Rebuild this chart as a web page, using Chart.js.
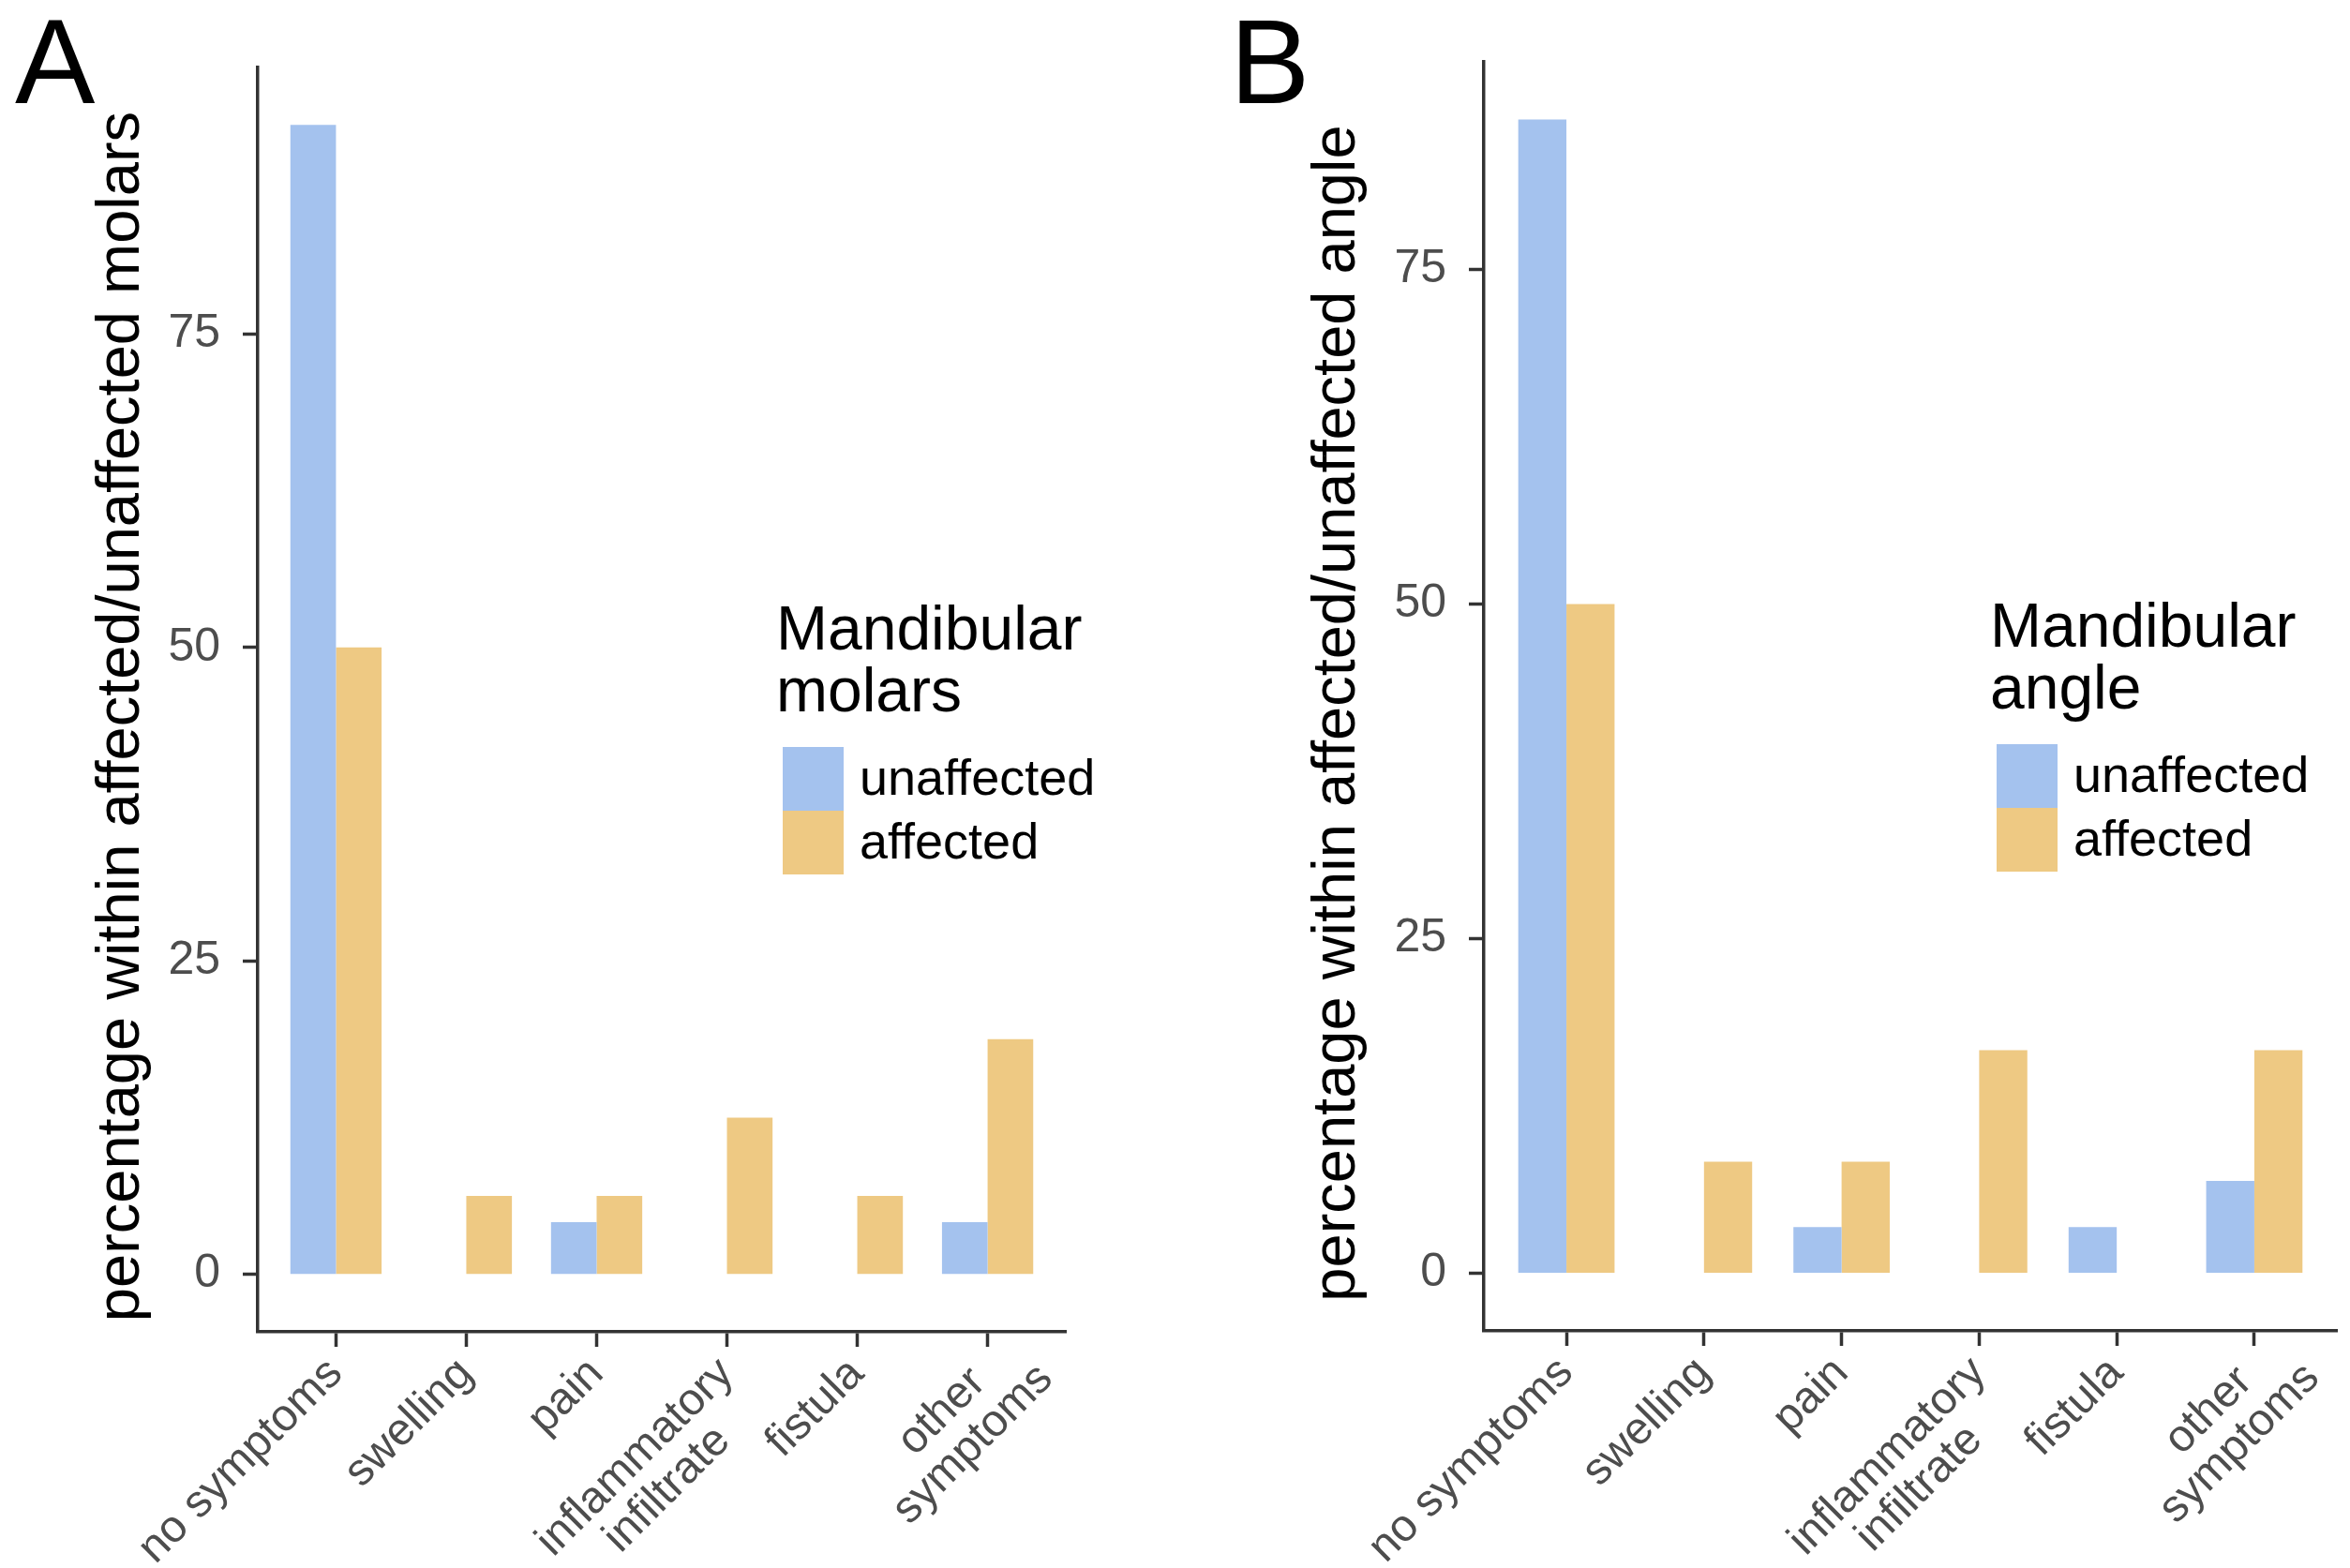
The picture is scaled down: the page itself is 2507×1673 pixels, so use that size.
<!DOCTYPE html>
<html>
<head>
<meta charset="utf-8">
<script src="https://cdn.jsdelivr.net/npm/chart.js@4.4.0/dist/chart.umd.min.js"></script>
<style>
  body { margin: 0; background: #fff; width: 2507px; height: 1673px; position: relative; overflow: hidden; }
  canvas { position: absolute; top: 0; }
</style>
</head>
<body>
<canvas id="painel_a" width="1250" height="1673" style="left:0px"></canvas>
<canvas id="painel_b" width="1257" height="1673" style="left:1250px"></canvas>
<script>
// DADOS DOS GRÁFICOS

// categorias do eixo x (\n = quebra de linha no rótulo)
var categorias = ['no symptoms', 'swelling', 'pain', 'inflammatory\ninfiltrate', 'fistula', 'other\nsymptoms'];
var legendaSeries = ['unaffected', 'affected'];
var ticksY = [0, 25, 50, 75];

// A - molares mandibulares (%)
var molaresNaoAfetados = [91.67, 0, 4.17, 0, 0, 4.17];
var molaresAfetados = [50, 6.25, 6.25, 12.5, 6.25, 18.75];

// B - ângulo mandibular (%)
var anguloNaoAfetado = [86.21, 0, 3.45, 0, 3.45, 6.9];
var anguloAfetado = [50, 8.33, 8.33, 16.67, 0, 16.67];

var corAzul = '#A4C2EE';
var corLaranja = '#EEC983';
var corEixo = '#333333';
var corTexto = '#4D4D4D';
var fonte = '"Liberation Sans", Arial, sans-serif';
var tamanhoX = 48;

Chart.defaults.font.family = fonte;

// centraliza as linhas de um rótulo de várias linhas (como o ggplot faz),
// completando as linhas menores com espaços no fim.
// No ggplot o bloco cuja linha mais longa não é a primeira fica um pouco
// mais à frente; os outros rótulos levam 3 espaços extras para compensar
// o labelOffset do eixo.
var medidor = document.createElement('canvas').getContext('2d');
function centralizarLinhas(linhas, tamanho) {
  medidor.font = tamanho + 'px ' + fonte;
  var larguras = linhas.map(l => medidor.measureText(l).width);
  var maior = Math.max.apply(null, larguras);
  var espaco = medidor.measureText(' ').width;
  var recuo = larguras.indexOf(maior) > 0 ? 0 : 3;
  var saida = linhas.map(function (l, i) {
    var n = Math.round((maior - larguras[i]) / 2 / espaco) + recuo;
    return l + ' '.repeat(n);
  });
  return saida.length == 1 ? saida[0] : saida;
}

// legenda + letra do painel, desenhadas como no ggplot
var legendaPlugin = {
  id: 'legendaGG',
  afterDraw: function (chart, args, op) {
    var ctx = chart.ctx;
    ctx.save();
    ctx.fillStyle = '#000';
    ctx.textAlign = 'left';
    ctx.textBaseline = 'alphabetic';
    ctx.font = '128px ' + fonte;
    ctx.fillText(op.letra, op.letraX, 110);

    ctx.font = '66px ' + fonte;
    for (var i = 0; i < op.titulo.length; i++) {
      ctx.fillText(op.titulo[i], op.x, op.y + i * 66);
    }

    var topo = op.y + 104;
    chart.data.datasets.forEach(function (ds, j) {
      ctx.fillStyle = ds.backgroundColor;
      ctx.fillRect(op.x + 7, topo + j * 68, 65, 68);
      ctx.fillStyle = '#000';
      ctx.font = '54px ' + fonte;
      ctx.textBaseline = 'middle';
      ctx.fillText(ds.label, op.x + 89, topo + j * 68 + 36);
    });
    ctx.restore();
  }
};

function criarPainel(idCanvas, naoAfetados, afetados, cfg) {
  var maximo = Math.max.apply(null, naoAfetados.concat(afetados));

  var dados = {
    datasets: [
      {
        label: legendaSeries[0],
        data: categorias.map((c, i) => ({ x: i + 1, y: naoAfetados[i] })),
        backgroundColor: corAzul,
        borderWidth: 0,
        categoryPercentage: 0.7,
        barPercentage: 1.0
      },
      {
        label: legendaSeries[1],
        data: categorias.map((c, i) => ({ x: i + 1, y: afetados[i] })),
        backgroundColor: corLaranja,
        borderWidth: 0,
        categoryPercentage: 0.7,
        barPercentage: 1.0
      }]
  };

  const config = {
    type: 'bar',
    data: dados,
    options: {
      responsive: false,
      animation: false,
      devicePixelRatio: 1,
      layout: { padding: { left: 0, top: cfg.topo, right: cfg.direita, bottom: 0 } },
      plugins: {
        legend: { display: false },
        tooltip: { enabled: false },
        legendaGG: cfg.legenda
      },
      scales: {
        x: {
          type: 'linear',
          offset: false,
          min: 0.4,
          max: categorias.length + 0.6,
          afterBuildTicks: function (scale) {
            scale.ticks = categorias.map((c, i) => ({ value: i + 1 }));
          },
          afterFit: function (scale) { scale.height = cfg.alturaX; },
          ticks: {
            autoSkip: false,
            minRotation: 45,
            maxRotation: 45,
            labelOffset: 28,
            padding: -24,
            color: corTexto,
            font: { size: tamanhoX, lineHeight: 1.0 },
            callback: function (valor) {
              return centralizarLinhas(categorias[valor - 1].split('\n'), tamanhoX);
            }
          },
          grid: { offset: false, drawOnChartArea: false, drawTicks: true, tickLength: 16, tickWidth: 3.5, tickColor: corEixo },
          border: { display: true, color: corEixo, width: 3.5 }
        },
        y: {
          min: -0.05 * maximo,
          max: 1.05 * maximo,
          afterBuildTicks: function (scale) {
            scale.ticks = ticksY.map(v => ({ value: v }));
          },
          afterFit: function (scale) { scale.width = cfg.larguraY; },
          ticks: {
            padding: 24,
            color: corTexto,
            font: { size: 50 },
            callback: v => v
          },
          title: {
            display: true,
            text: cfg.tituloY + '  ',
            color: '#000',
            font: { size: 65, lineHeight: 1.0 },
            padding: { top: cfg.tituloPad, bottom: 0 }
          },
          grid: { drawOnChartArea: false, drawTicks: true, tickLength: 16, tickWidth: 3.5, tickColor: corEixo },
          border: { display: true, color: corEixo, width: 3.5 }
        }
      }
    },
    plugins: [legendaPlugin]
  };

  return new Chart(document.getElementById(idCanvas), config);
}

criarPainel('painel_a', molaresNaoAfetados, molaresAfetados, {
  topo: 72, direita: 1250 - 1137, alturaX: 1673 - 1421, larguraY: 275, tituloPad: 98,
  tituloY: 'percentage within affected/unaffected molars',
  legenda: { letra: 'A', letraX: 16, x: 828, y: 693, titulo: ['Mandibular', 'molars'] }
});

criarPainel('painel_b', anguloNaoAfetado, anguloAfetado, {
  topo: 66, direita: 1257 - 1243, alturaX: 1673 - 1420, larguraY: 333, tituloPad: 145,
  tituloY: 'percentage within affected/unaffected angle',
  legenda: { letra: 'B', letraX: 62, x: 873, y: 690, titulo: ['Mandibular', 'angle'] }
});
</script>
</body>
</html>
